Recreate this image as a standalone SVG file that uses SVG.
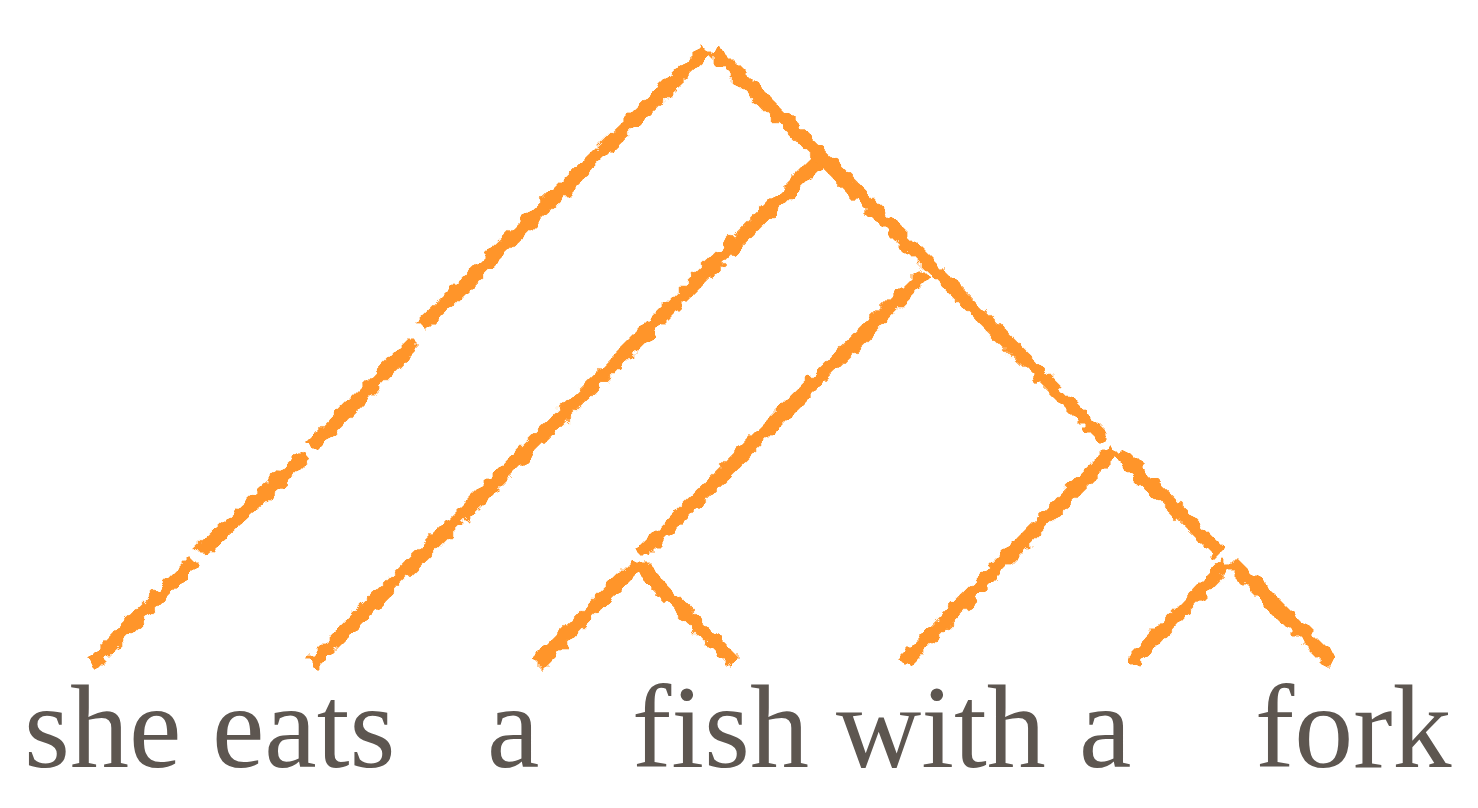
<svg xmlns="http://www.w3.org/2000/svg" width="1478" height="808" viewBox="0 0 1478 808">
<style>
.edge{fill:none;stroke:#FF9529;stroke-width:14;stroke-linecap:butt}
.word{font-family:"Liberation Serif","Times New Roman",serif;font-size:118px;fill:#5d5650}
</style>
<defs>
<filter id="rough" filterUnits="userSpaceOnUse" x="0" y="0" width="1478" height="808">
<feTurbulence type="fractalNoise" baseFrequency="0.09" numOctaves="2" seed="7" result="n"/>
<feDisplacementMap in="SourceGraphic" in2="n" scale="13" xChannelSelector="R" yChannelSelector="G"/>
</filter>
</defs>
<rect width="1478" height="808" fill="#ffffff"/>
<g id="connectors" filter="url(#rough)">
<path class="edge" d="M706,50 L421,327"/>
<path class="edge" d="M415,342 L311,448"/>
<path class="edge" d="M307,455 L200,552"/>
<path class="edge" d="M195,560 L92,664"/>
<path class="edge" d="M714,50 L1104,438"/>
<path class="edge" d="M819,160 L313,663"/>
<path class="edge" d="M925,273 L643,553"/>
<path class="edge" d="M636,565 L538,664"/>
<path class="edge" d="M638,565 L734,662"/>
<path class="edge" d="M1114,450 L904,662"/>
<path class="edge" d="M1118,452 L1220,553"/>
<path class="edge" d="M1228,562 L1132,662"/>
<path class="edge" d="M1232,562 L1332,662"/>
</g>
<g id="w-she"><text class="word" x="24" y="767">she</text></g>
<g id="w-eats"><text class="word" x="212" y="767">eats</text></g>
<g id="w-a1"><text class="word" x="487" y="767">a</text></g>
<g id="w-fish"><text class="word" x="632" y="767">fish</text></g>
<g id="w-with"><text class="word" x="836" y="767">with</text></g>
<g id="w-a2"><text class="word" x="1079" y="767">a</text></g>
<g id="w-fork"><text class="word" x="1255" y="767">fork</text></g>
</svg>
